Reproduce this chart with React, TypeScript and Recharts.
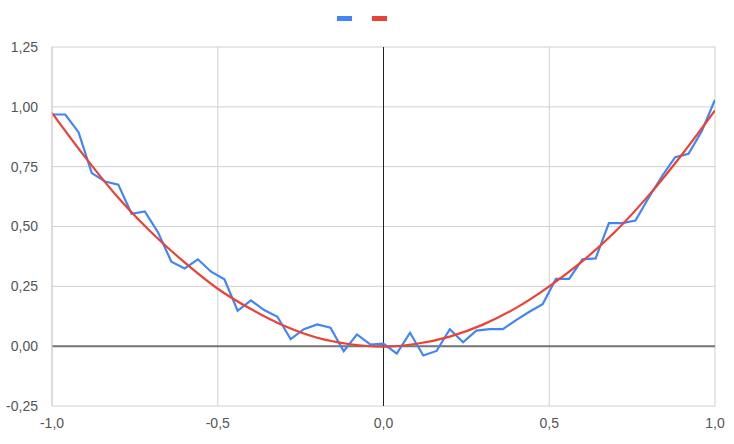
import {
  LineChart,
  Line,
  XAxis,
  YAxis,
  CartesianGrid,
  ReferenceLine,
  Legend,
} from "recharts";

// noisy samples, x from -1 to 1 in steps of 0.04
const sampleX = [
  -1, -0.96, -0.92, -0.88, -0.84, -0.8, -0.76, -0.72, -0.68, -0.64, -0.6,
  -0.56, -0.52, -0.48, -0.44, -0.4, -0.36, -0.32, -0.28, -0.24, -0.2, -0.16,
  -0.12, -0.08, -0.04, 0, 0.04, 0.08, 0.12, 0.16, 0.2, 0.24, 0.28, 0.32, 0.36,
  0.4, 0.44, 0.48, 0.52, 0.56, 0.6, 0.64, 0.68, 0.72, 0.76, 0.8, 0.84, 0.88,
  0.92, 0.96, 1,
];
const sampleY = [
  0.968, 0.968, 0.894, 0.723, 0.688, 0.675, 0.553, 0.563, 0.475, 0.353, 0.325,
  0.363, 0.311, 0.279, 0.148, 0.191, 0.151, 0.123, 0.029, 0.071, 0.091, 0.077,
  -0.021, 0.049, 0.007, 0.011, -0.031, 0.056, -0.039, -0.02, 0.071, 0.016,
  0.065, 0.071, 0.071, 0.109, 0.144, 0.175, 0.281, 0.281, 0.363, 0.367, 0.514,
  0.514, 0.525, 0.62, 0.71, 0.79, 0.804, 0.898, 1.03,
];

// fitted curve
const fitX = [
  -1, -0.9, -0.8, -0.7, -0.6, -0.5, -0.4, -0.3, -0.2, -0.1, 0, 0.1, 0.2, 0.3,
  0.4, 0.5, 0.6, 0.7, 0.8, 0.9, 1,
];
const fitY = [
  0.975, 0.79, 0.62, 0.475, 0.35, 0.24, 0.155, 0.085, 0.035, 0.008, -0.002,
  0.01, 0.04, 0.09, 0.16, 0.25, 0.355, 0.48, 0.63, 0.8, 0.985,
];

const xTicks = [-1, -0.5, 0, 0.5, 1];
const yTicks = [-0.25, 0, 0.25, 0.5, 0.75, 1, 1.25];

const samples = sampleX.map((x, i) => ({ x, y: sampleY[i] }));
const fit = fitX.map((x, i) => ({ x, y: fitY[i] }));

const comma = (digits: number) => (v: number) => v.toFixed(digits).replace(".", ",");

const LegendMarks = () => (
  <div
    style={{
      display: "flex",
      justifyContent: "center",
      gap: 20,
      height: 5,
      paddingLeft: 8,
    }}
  >
    <div style={{ width: 15, height: 5, background: "#4285f4" }} />
    <div style={{ width: 15, height: 5, background: "#ea4335" }} />
  </div>
);

export default function App() {
  const font = { fontFamily: "Liberation Sans, Arial, sans-serif", fontSize: 14, fill: "#555" };
  return (
    <div style={{ position: "absolute", left: 0, top: 0 }}>
      <LineChart
        width={734}
        height={444}
        margin={{ top: 42, right: 19, bottom: 8, left: 0 }}
      >
        <CartesianGrid stroke="#d0d0d0" strokeWidth={1} />
        <XAxis
          type="number"
          dataKey="x"
          domain={[-1, 1]}
          ticks={xTicks}
          tickFormatter={comma(1)}
          tick={font}
          tickLine={false}
          axisLine={false}
          tickMargin={6}
          allowDataOverflow
        />
        <YAxis
          type="number"
          dataKey="y"
          domain={[-0.25, 1.25]}
          ticks={yTicks}
          tickFormatter={comma(2)}
          tick={font}
          tickLine={false}
          axisLine={{ stroke: "#d0d0d0" }}
          width={52}
          tickMargin={8}
          allowDataOverflow
        />
        <Legend
          verticalAlign="top"
          content={<LegendMarks />}
          wrapperStyle={{ top: 16, height: 5 }}
        />
        <ReferenceLine y={0} stroke="#757575" strokeWidth={2} />
        <ReferenceLine x={0} stroke="#222" strokeWidth={1} />
        <Line
          data={samples}
          dataKey="y"
          type="linear"
          stroke="#4285f4"
          strokeWidth={2.2}
          dot={false}
          isAnimationActive={false}
        />
        <Line
          data={fit}
          dataKey="y"
          type="monotone"
          stroke="#ea4335"
          strokeWidth={2.2}
          dot={false}
          isAnimationActive={false}
        />
      </LineChart>
    </div>
  );
}
